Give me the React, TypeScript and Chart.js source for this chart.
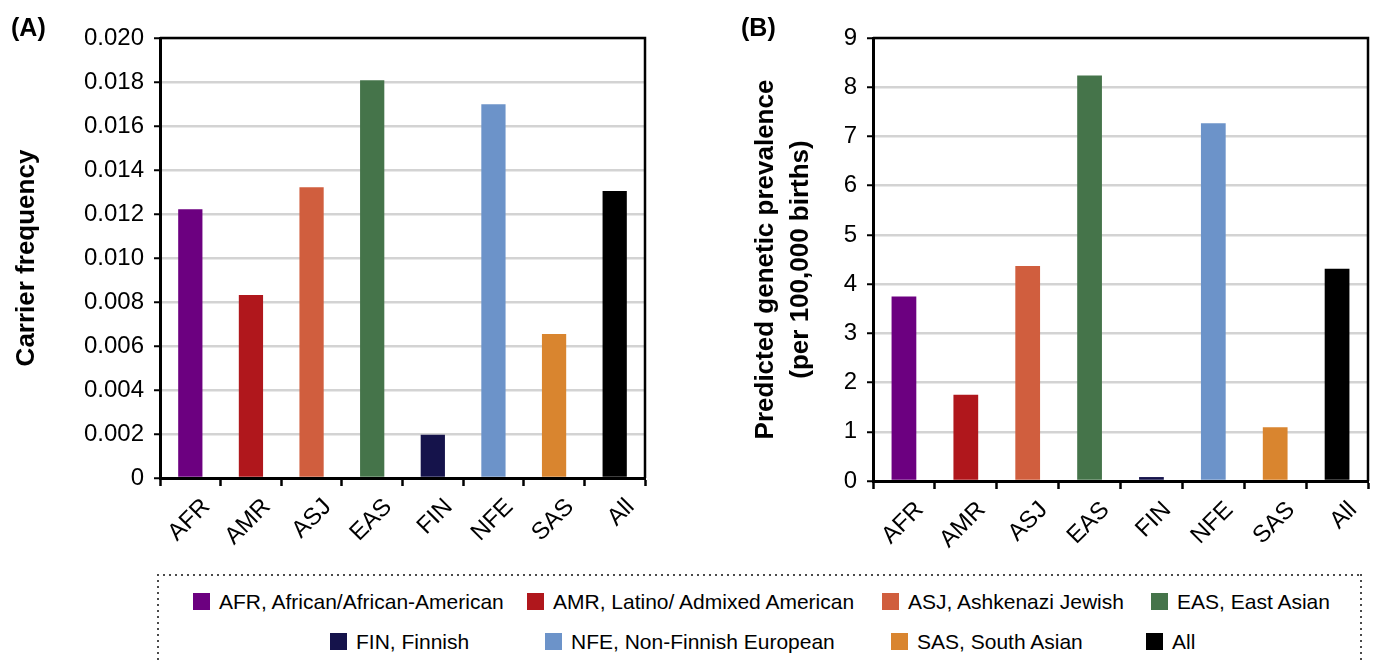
import React, { useEffect, useRef } from 'react';
import { Chart, registerables } from 'chart.js';

Chart.register(...registerables);

// ---------- data ----------
const categories = ['AFR', 'AMR', 'ASJ', 'EAS', 'FIN', 'NFE', 'SAS', 'All'];
const carrierFrequency = [0.01222, 0.00832, 0.01322, 0.01808, 0.00197, 0.01699, 0.00655, 0.01305];
const predictedPrevalence = [3.75, 1.75, 4.37, 8.24, 0.08, 7.27, 1.09, 4.31];
const barColors = ['#6C0080', '#B0171C', '#D05E3E', '#45744A', '#15134B', '#6C93C9', '#D9852F', '#000000'];
const legendLabels = [
  'AFR, African/African-American',
  'AMR, Latino/ Admixed American',
  'ASJ, Ashkenazi Jewish',
  'EAS, East Asian',
  'FIN, Finnish',
  'NFE, Non-Finnish European',
  'SAS, South Asian',
  'All',
];
const titleA = 'Carrier frequency';
const titleB = ['Predicted genetic prevalence', '(per 100,000 births)'];

// ---------- layout ----------
const FONT = '"Liberation Sans", Arial, Helvetica, sans-serif';
const legendSquareX = [193, 527, 882, 1151, 330, 545, 891, 1146];
const legendRowTop = [593, 633];

const framePlugin = {
  id: 'frame',
  afterDraw(chart: any) {
    const { ctx, chartArea } = chart;
    const { left, right, top, bottom } = chartArea;
    ctx.save();
    ctx.strokeStyle = '#000';
    ctx.lineWidth = 2.5;
    ctx.beginPath();
    ctx.moveTo(left, top);
    ctx.lineTo(right, top);
    ctx.lineTo(right, bottom);
    ctx.stroke();
    ctx.restore();
  },
};

function makeConfig(
  values: number[],
  yMax: number,
  yStep: number,
  tickFmt: (v: number) => string,
  title: string | string[],
  titleLineHeight: number,
  titlePad: number,
  yWidth: number,
  xHeight: number,
  padRight: number
): any {
  return {
    type: 'bar',
    data: {
      labels: categories,
      datasets: [
        {
          data: values,
          backgroundColor: barColors,
          borderWidth: 0,
          categoryPercentage: 1,
          barPercentage: 0.4,
        },
      ],
    },
    plugins: [framePlugin],
    options: {
      responsive: false,
      maintainAspectRatio: false,
      animation: false,
      devicePixelRatio: 1,
      layout: { padding: { top: 38, right: padRight, left: 0, bottom: 0 } },
      plugins: { legend: { display: false }, tooltip: { enabled: false } },
      scales: {
        x: {
          offset: true,
          grid: {
            offset: true,
            drawOnChartArea: false,
            drawTicks: true,
            tickLength: 8,
            tickWidth: 2.5,
            tickColor: '#000',
            color: '#000',
          },
          border: { display: true, color: '#000', width: 3 },
          ticks: {
            color: '#000',
            font: { family: FONT, size: 24 },
            minRotation: 45,
            maxRotation: 45,
            labelOffset: 16,
            padding: 7,
            autoSkip: false,
          },
          afterFit(scale: any) {
            scale.height = xHeight;
          },
        },
        y: {
          min: 0,
          max: yMax,
          grid: {
            color: '#d3d3d3',
            lineWidth: 2.5,
            drawTicks: true,
            tickLength: 6,
            tickWidth: 2,
            tickColor: '#000',
          },
          border: { display: true, color: '#000', width: 3 },
          ticks: {
            stepSize: yStep,
            color: '#000',
            padding: 10,
            font: { family: FONT, size: 24 },
            callback: (v: any) => tickFmt(Number(v)),
          },
          title: {
            display: true,
            text: title,
            color: '#000',
            font: { family: FONT, size: 26, weight: 'bold', lineHeight: titleLineHeight },
            padding: { top: titlePad, bottom: 0 },
          },
          afterFit(scale: any) {
            scale.width = yWidth;
          },
        },
      },
    },
  };
}

function BarChart(props: { config: any; width: number; height: number; left: number; top: number }) {
  const ref = useRef<HTMLCanvasElement | null>(null);
  useEffect(() => {
    if (!ref.current) return;
    const chart = new Chart(ref.current, props.config);
    return () => chart.destroy();
  }, []);
  return (
    <canvas
      ref={ref}
      width={props.width}
      height={props.height}
      style={{ position: 'absolute', left: props.left, top: props.top, width: props.width, height: props.height }}
    />
  );
}

function DottedLine(props: { left: number; top: number; width: number; height: number; vertical?: boolean }) {
  const dir = props.vertical ? 'to bottom' : 'to right';
  return (
    <div
      style={{
        position: 'absolute',
        left: props.left,
        top: props.top,
        width: props.width,
        height: props.height,
        backgroundImage: `repeating-linear-gradient(${dir}, #4a4a4a 0px, #4a4a4a 2px, transparent 2px, transparent 6px)`,
      }}
    />
  );
}

export default function App() {
  const configA = makeConfig(
    carrierFrequency,
    0.02,
    0.002,
    (v) => (v === 0 ? '0' : v.toFixed(3)),
    titleA,
    1.2,
    11,
    160,
    92,
    15
  );
  const configB = makeConfig(
    predictedPrevalence,
    9,
    1,
    (v) => String(Math.round(v)),
    titleB,
    1.35,
    48,
    173,
    89,
    8
  );

  return (
    <div
      style={{
        position: 'absolute',
        left: 0,
        top: 0,
        width: 1376,
        height: 664,
        overflow: 'hidden',
        background: '#fff',
        fontFamily: FONT,
        color: '#000',
      }}
    >
      <BarChart config={configA} width={660} height={570} left={0} top={0} />
      <BarChart config={configB} width={676} height={570} left={700} top={0} />

      <div style={{ position: 'absolute', left: 11, top: 15, fontSize: 25, fontWeight: 'bold', lineHeight: 1 }}>(A)</div>
      <div style={{ position: 'absolute', left: 741, top: 15, fontSize: 25, fontWeight: 'bold', lineHeight: 1 }}>(B)</div>

      {/* legend frame (dotted) */}
      <DottedLine left={157} top={574} width={1205} height={2} />
      <DottedLine left={157} top={574} width={2} height={100} vertical />
      <DottedLine left={1360} top={574} width={2} height={100} vertical />

      {legendLabels.map((label, i) => (
        <div
          key={label}
          style={{
            position: 'absolute',
            left: legendSquareX[i],
            top: legendRowTop[i < 4 ? 0 : 1],
            height: 17,
            display: 'flex',
            alignItems: 'center',
            whiteSpace: 'nowrap',
          }}
        >
          <div style={{ width: 17, height: 17, background: barColors[i], flex: 'none' }} />
          <div style={{ marginLeft: 9, fontSize: 21, lineHeight: 1 }}>{label}</div>
        </div>
      ))}
    </div>
  );
}
